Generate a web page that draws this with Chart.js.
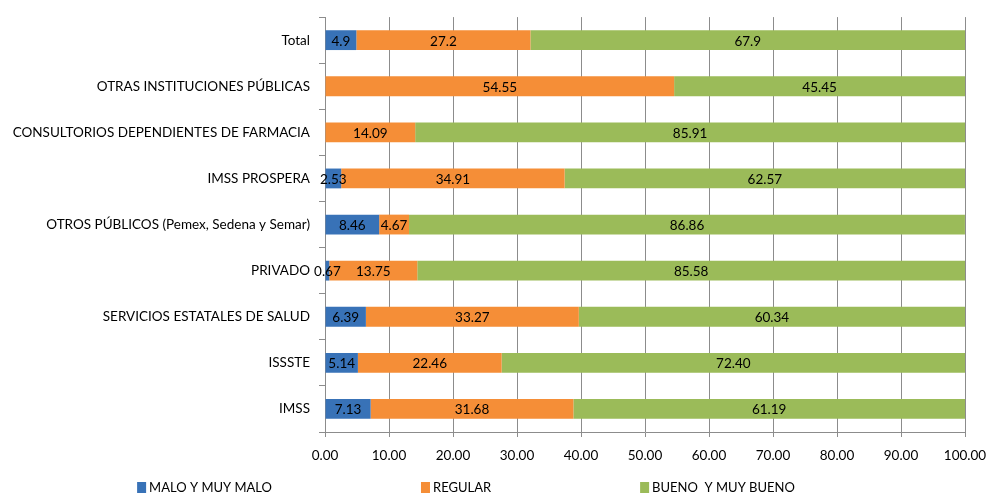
<!DOCTYPE html>
<html>
<head>
<meta charset="utf-8">
<script src="https://cdn.jsdelivr.net/npm/chart.js@4.4.0/dist/chart.umd.min.js"></script>
<style>
  html, body { margin: 0; padding: 0; background: #ffffff; }
  #wrap { width: 987px; height: 494px; position: relative; }
</style>
</head>
<body>
<div id="wrap"><canvas id="c" width="987" height="494"></canvas></div>
<script>
const categories = [
  "Total",
  "OTRAS INSTITUCIONES PÚBLICAS",
  "CONSULTORIOS DEPENDIENTES DE FARMACIA",
  "IMSS PROSPERA",
  "OTROS PÚBLICOS (Pemex, Sedena y Semar)",
  "PRIVADO",
  "SERVICIOS ESTATALES DE SALUD",
  "ISSSTE",
  "IMSS"
];
const seriesNames = ["MALO Y MUY MALO", "REGULAR", "BUENO  Y MUY BUENO"];
const maloValues    = [4.9, 0, 0, 2.53, 8.46, 0.67, 6.39, 5.14, 7.13];
const regularValues = [27.2, 54.55, 14.09, 34.91, 4.67, 13.75, 33.27, 22.46, 31.68];
const buenoValues   = [67.9, 45.45, 85.91, 62.57, 86.86, 85.58, 60.34, 72.40, 61.19];
const labelDecimals = [1, 2, 2, 2, 2, 2, 2, 2, 2];
const xTickValues = [0, 10, 20, 30, 40, 50, 60, 70, 80, 90, 100];

const FONT = "Lato, 'Liberation Sans', sans-serif";
const colors = ["#3872B7", "#F58E37", "#9BBB59"];

const dataLabelPlugin = {
  id: 'dataLabels',
  afterDatasetsDraw(chart) {
    const ctx = chart.ctx;
    ctx.save();
    ctx.font = "13.5px " + FONT;
    ctx.fillStyle = "#000";
    ctx.textAlign = "center";
    ctx.textBaseline = "middle";
    chart.data.datasets.forEach((ds, i) => {
      const meta = chart.getDatasetMeta(i);
      meta.data.forEach((bar, j) => {
        const v = ds.data[j];
        if (!v) return;
        const p = bar.getProps(['x', 'base', 'y'], true);
        ctx.fillText(v.toFixed(labelDecimals[j]), (p.x + p.base) / 2, p.y + 1);
      });
    });
    ctx.restore();
  }
};

const legendPlugin = {
  id: 'customLegend',
  afterDraw(chart) {
    const ctx = chart.ctx;
    ctx.save();
    ctx.font = "13px " + FONT;
    ctx.textBaseline = "middle";
    ctx.textAlign = "left";
    const box = 9, boxGap = 3, gap = 149;
    const widths = chart.data.datasets.map(ds => box + boxGap + ctx.measureText(ds.label).width);
    const total = widths.reduce((a, b) => a + b, 0) + gap * (widths.length - 1);
    let x = 466 - total / 2;
    const y = 488;
    chart.data.datasets.forEach((ds, i) => {
      ctx.fillStyle = ds.backgroundColor;
      ctx.fillRect(x, y - 6, box, 11);
      ctx.fillStyle = "#000";
      ctx.fillText(ds.label, x + box + boxGap, y);
      x += widths[i] + gap;
    });
    ctx.restore();
  }
};

const values = [maloValues, regularValues, buenoValues];

new Chart(document.getElementById('c'), {
  type: 'bar',
  data: {
    labels: categories,
    datasets: seriesNames.map((name, i) => ({
      label: name,
      data: values[i],
      backgroundColor: colors[i],
      borderWidth: 0,
      barPercentage: 0.43,
      categoryPercentage: 1
    }))
  },
  options: {
    indexAxis: 'y',
    responsive: false,
    animation: false,
    devicePixelRatio: 1,
    layout: { padding: { left: 0, right: 22, top: 12, bottom: 0 } },
    plugins: {
      legend: { display: false },
      tooltip: { enabled: false }
    },
    scales: {
      x: {
        stacked: true,
        min: 0,
        max: 100,
        afterBuildTicks(scale) { scale.ticks = xTickValues.map(v => ({ value: v })); },
        afterFit(scale) { scale.height = 62; scale.paddingRight = 0; scale.paddingLeft = 0; },
        ticks: {
          callback: v => Number(v).toFixed(2),
          color: "#000",
          font: { family: FONT, size: 13.5 },
          padding: 11,
          maxRotation: 0
        },
        grid: { color: "#8C8C8C", lineWidth: 1, tickLength: 5, drawTicks: true },
        border: { color: "#8C8C8C", width: 1 }
      },
      y: {
        stacked: true,
        afterFit(scale) { scale.width = 325; },
        ticks: {
          color: "#000",
          font: { family: FONT, size: 13.5 },
          padding: 9,
          autoSkip: false
        },
        grid: { offset: true, drawOnChartArea: false, drawTicks: true, tickLength: 6, color: "#8C8C8C" },
        border: { color: "#8C8C8C", width: 1 }
      }
    }
  },
  plugins: [dataLabelPlugin, legendPlugin]
});
</script>
</body>
</html>
